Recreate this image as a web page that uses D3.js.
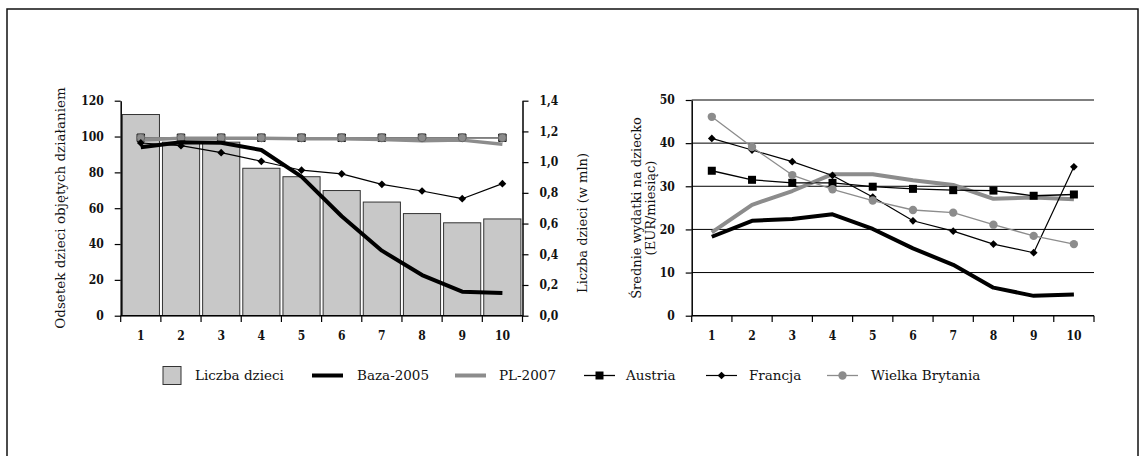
<!DOCTYPE html>
<html>
<head>
<meta charset="utf-8">
<script src="https://cdn.jsdelivr.net/npm/d3@7"></script>
<style>
  body { margin: 0; background: #fff; }
  text { font-family: "DejaVu Serif", serif; fill: #111; }
  .tick text, .xlab { font-family: "DejaVu Serif Condensed", "DejaVu Serif", serif; font-weight: bold; font-size: 12px; }
</style>
</head>
<body>
<script>
// size of the whole picture
const w = 1140;
const h = 456;

// data
const categories = ["1", "2", "3", "4", "5", "6", "7", "8", "9", "10"];

// left chart: bars on the right axis (mln), lines on the left axis (%)
const liczbaDzieci = [1.31, 1.13, 1.13, 0.96, 0.905, 0.815, 0.74, 0.665, 0.605, 0.63];
const bazaLeft = [94, 96.8, 96.5, 92.5, 77.6, 55.5, 36.3, 22.7, 13.4, 12.7];
const plLeft = [98, 99, 99, 99, 98.8, 98.8, 98.3, 97.7, 98, 95.7];
const austriaLeft = [99.3, 99.3, 99.3, 99.3, 99.3, 99.3, 99.3, 99.3, 99.3, 99.3];
const franceLeft = [96.4, 94.9, 91, 86.2, 81.2, 79.2, 73.3, 69.6, 65.3, 73.7];
const ukLeft = [99.3, 99.3, 99.3, 99.3, 99.3, 99.3, 99.3, 99.3, 99.3, 99.3];

// right chart: expenditure per child (EUR/month)
const bazaRight = [18.3, 22.0, 22.4, 23.5, 20.1, 15.6, 11.8, 6.5, 4.6, 4.9];
const plRight = [19.3, 25.7, 28.9, 32.8, 32.8, 31.4, 30.3, 27.1, 27.4, 27.0];
const austriaRight = [33.6, 31.5, 30.8, 30.8, 29.9, 29.4, 29.1, 29.0, 27.8, 28.1];
const franceRight = [41.1, 38.4, 35.7, 32.5, 27.5, 22.0, 19.6, 16.6, 14.6, 34.5];
const ukRight = [46.1, 39.1, 32.6, 29.3, 26.7, 24.5, 23.9, 21.1, 18.5, 16.6];

const leftTicks = [0, 20, 40, 60, 80, 100, 120];
const mlnTicks = [0, 0.2, 0.4, 0.6, 0.8, 1.0, 1.2, 1.4];
const eurTicks = [0, 10, 20, 30, 40, 50];

const gray = "#8c8c8c";
const fmtComma = d => d3.format(".1f")(d).replace(".", ",");

const svg = d3.select("body").append("svg")
    .attr("width", w)
    .attr("height", h);

// outer frame
svg.append("rect")
    .attr("x", 7).attr("y", 9)
    .attr("width", 1131).attr("height", 460)
    .attr("fill", "none")
    .attr("stroke", "#111")
    .attr("stroke-width", 1.5);

// marker shapes
const diamond = d3.symbol().type(d3.symbolSquare).size(30);
function markerPath(type, size) {
    return type === "diamond" ? diamond() : d3.symbol().type(type).size(size)();
}
function markerTransform(type, x, y) {
    return `translate(${x},${y})` + (type === "diamond" ? " rotate(45)" : "");
}

// ---------- left chart ----------
const x1 = d3.scaleBand().domain(categories).range([120.7, 522.5]).paddingInner(0.075).paddingOuter(0.04);
const x1p = d3.scalePoint().domain(categories).range([120.7 + 20.1, 522.5 - 20.1]);
const yL = d3.scaleLinear().domain([0, 120]).range([315.7, 100.7]);
const yR = d3.scaleLinear().domain([0, 1.4]).range([315.7, 100.7]);

const left = svg.append("g");

left.selectAll("rect.bar")
    .data(liczbaDzieci)
    .enter()
    .append("rect")
    .attr("class", "bar")
    .attr("x", (d, i) => x1(categories[i]))
    .attr("y", d => yR(d))
    .attr("width", x1.bandwidth())
    .attr("height", d => yR(0) - yR(d))
    .attr("fill", "#c8c8c8")
    .attr("stroke", "#333")
    .attr("stroke-width", 1);

function drawSeries(g, xs, ys, values, opts) {
    const line = d3.line()
        .x((d, i) => xs(categories[i]))
        .y(d => ys(d));
    g.append("path")
        .datum(values)
        .attr("d", line)
        .attr("fill", "none")
        .attr("stroke", opts.color)
        .attr("stroke-width", opts.width)
        .attr("stroke-linejoin", "round");
    if (opts.marker) {
        g.selectAll(null)
            .data(values)
            .enter()
            .append("path")
            .attr("d", markerPath(opts.marker, opts.size))
            .attr("transform", (d, i) => markerTransform(opts.marker, xs(categories[i]), ys(d)))
            .attr("fill", opts.fill || opts.color)
            .attr("stroke", opts.stroke || "none")
            .attr("stroke-width", 1);
    }
}

drawSeries(left, x1p, yL, austriaLeft, { color: "#222", width: 1.3, marker: d3.symbolSquare, size: 56, fill: gray, stroke: "#111" });
drawSeries(left, x1p, yL, plLeft, { color: gray, width: 3.5 });
drawSeries(left, x1p, yL, ukLeft, { color: gray, width: 1.3, marker: d3.symbolCircle, size: 50, fill: gray, stroke: "#666" });
drawSeries(left, x1p, yL, franceLeft, { color: "#000", width: 1.2, marker: "diamond" });
drawSeries(left, x1p, yL, bazaLeft, { color: "#000", width: 4 });

// left axes
left.append("g")
    .attr("transform", "translate(120.7,0)")
    .call(d3.axisLeft(yL).tickValues(leftTicks).tickSize(6).tickSizeOuter(0).tickPadding(11));
left.append("g")
    .attr("transform", "translate(522.5,0)")
    .call(d3.axisRight(yR).tickValues(mlnTicks).tickFormat(fmtComma).tickSize(6).tickSizeOuter(0).tickPadding(11));

function xAxis(g, x0, x1end, xs) {
    const bounds = d3.range(categories.length + 1).map(i => x0 + (x1end - x0) * i / categories.length);
    g.append("line")
        .attr("x1", x0).attr("x2", x1end)
        .attr("y1", 315.7).attr("y2", 315.7)
        .attr("stroke", "#000").attr("stroke-width", 1.5);
    g.selectAll(null).data(bounds).enter().append("line")
        .attr("x1", d => d).attr("x2", d => d)
        .attr("y1", 315.7).attr("y2", 322)
        .attr("stroke", "#000").attr("stroke-width", 1.2);
    g.selectAll(null).data(categories).enter().append("text")
        .attr("class", "xlab")
        .attr("x", d => xs(d))
        .attr("y", 340)
        .attr("text-anchor", "middle")
        .text(d => d);
}
xAxis(left, 120.7, 522.5, x1p);

left.append("text")
    .attr("transform", "translate(65,208) rotate(-90)")
    .attr("text-anchor", "middle")
    .attr("font-size", "13.5px")
    .text("Odsetek dzieci objętych działaniem");
left.append("text")
    .attr("transform", "translate(587,223) rotate(-90)")
    .attr("text-anchor", "middle")
    .attr("font-size", "13px")
    .text("Liczba dzieci (w mln)");

// ---------- right chart ----------
const x2p = d3.scalePoint().domain(categories).range([691.7 + 20.1, 1094 - 20.1]);
const yE = d3.scaleLinear().domain([0, 50]).range([315.7, 100]);

const right = svg.append("g");

// horizontal gridlines
right.selectAll(null)
    .data(eurTicks.filter(d => d > 0))
    .enter()
    .append("line")
    .attr("x1", 691.7).attr("x2", 1094)
    .attr("y1", d => yE(d)).attr("y2", d => yE(d))
    .attr("stroke", "#000").attr("stroke-width", 1);

drawSeries(right, x2p, yE, bazaRight, { color: "#000", width: 4 });
drawSeries(right, x2p, yE, plRight, { color: gray, width: 4 });
drawSeries(right, x2p, yE, austriaRight, { color: "#000", width: 1.3, marker: d3.symbolSquare, size: 64 });
drawSeries(right, x2p, yE, franceRight, { color: "#000", width: 1.2, marker: "diamond" });
drawSeries(right, x2p, yE, ukRight, { color: gray, width: 1.3, marker: d3.symbolCircle, size: 55 });

right.append("g")
    .attr("transform", "translate(691.7,0)")
    .call(d3.axisLeft(yE).tickValues(eurTicks).tickSize(6).tickSizeOuter(0).tickPadding(11));
xAxis(right, 691.7, 1094, x2p);

const yTitle = right.append("text")
    .attr("transform", "translate(641,208) rotate(-90)")
    .attr("text-anchor", "middle")
    .attr("font-size", "13px");
yTitle.append("tspan").attr("x", 0).attr("dy", 0).text("Średnie wydatki na dziecko");
yTitle.append("tspan").attr("x", 0).attr("dy", 14).text("(EUR/miesiąc)");

svg.selectAll(".domain").attr("stroke", "#000").attr("stroke-width", 1.5);
svg.selectAll(".tick line").attr("stroke", "#000").attr("stroke-width", 1.2);

// ---------- legend ----------
const legend = svg.append("g").attr("transform", "translate(0,375.5)");
const legendItems = [
    { label: "Liczba dzieci", kind: "bar", sx: 163, tx: 195 },
    { label: "Baza-2005", kind: "line", color: "#000", width: 4, sx: 312, tx: 357 },
    { label: "PL-2007", kind: "line", color: gray, width: 4, sx: 455, tx: 499 },
    { label: "Austria", kind: "line", color: "#000", width: 1.3, marker: d3.symbolSquare, size: 64, sx: 584, tx: 626 },
    { label: "Francja", kind: "line", color: "#000", width: 1.2, marker: "diamond", sx: 706, tx: 749 },
    { label: "Wielka Brytania", kind: "line", color: gray, width: 1.3, marker: d3.symbolCircle, size: 55, sx: 827, tx: 871 }
];

legendItems.forEach(item => {
    if (item.kind === "bar") {
        legend.append("rect")
            .attr("x", item.sx).attr("y", -9)
            .attr("width", 18).attr("height", 18)
            .attr("fill", "#c8c8c8").attr("stroke", "#333");
    } else {
        legend.append("line")
            .attr("x1", item.sx).attr("x2", item.sx + 31)
            .attr("y1", 0).attr("y2", 0)
            .attr("stroke", item.color).attr("stroke-width", item.width);
        if (item.marker) {
            legend.append("path")
                .attr("d", markerPath(item.marker, item.size))
                .attr("transform", markerTransform(item.marker, item.sx + 15.5, 0))
                .attr("fill", item.color);
        }
    }
    legend.append("text")
        .attr("x", item.tx).attr("y", 0)
        .attr("dy", "0.35em")
        .attr("font-size", "13.5px")
        .text(item.label);
});
</script>
</body>
</html>
